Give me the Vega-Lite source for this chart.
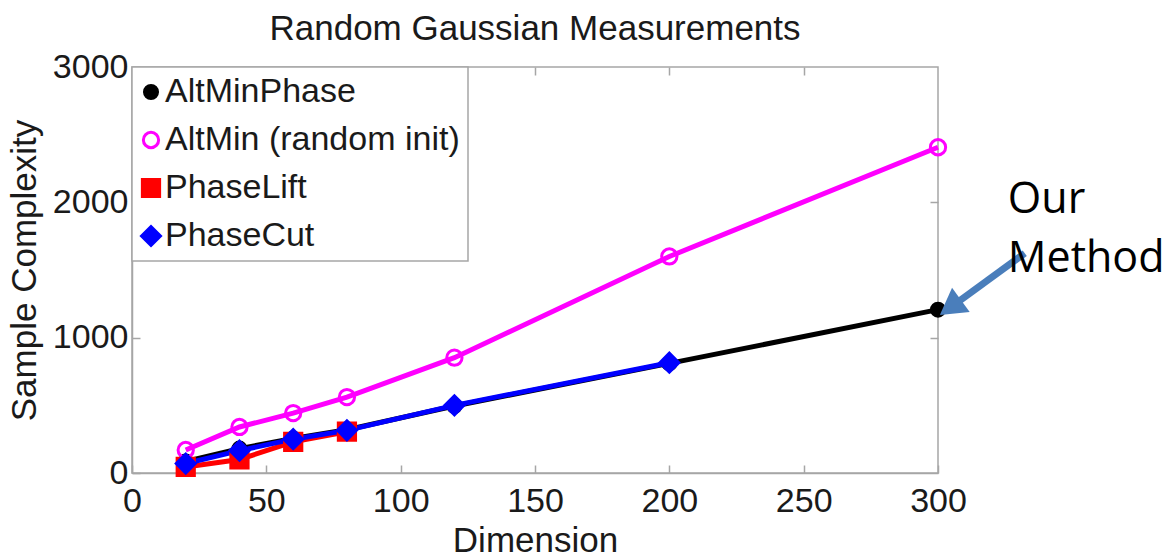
{
  "$schema": "https://vega.github.io/schema/vega-lite/v6.json",
  "autosize": {"type": "none"},
  "width": 806,
  "height": 406,
  "padding": {"left": 132, "top": 67, "right": 233, "bottom": 80},
  "background": "white",
  "title": {
    "text": "Random Gaussian Measurements",
    "font": "Liberation Sans",
    "fontSize": 35,
    "fontWeight": "normal",
    "color": "#1a1a1a",
    "anchor": "middle",
    "offset": 3
  },
  "datasets": {
    "main": [
      {"Series": "AltMinPhase", "Dimension": 20, "Value": 85},
      {"Series": "AltMinPhase", "Dimension": 40, "Value": 180},
      {"Series": "AltMinPhase", "Dimension": 60, "Value": 255},
      {"Series": "AltMinPhase", "Dimension": 80, "Value": 320},
      {"Series": "AltMinPhase", "Dimension": 120, "Value": 495},
      {"Series": "AltMinPhase", "Dimension": 200, "Value": 810},
      {"Series": "AltMinPhase", "Dimension": 300, "Value": 1207},
      {"Series": "AltMin (random init)", "Dimension": 20, "Value": 170},
      {"Series": "AltMin (random init)", "Dimension": 40, "Value": 340},
      {"Series": "AltMin (random init)", "Dimension": 60, "Value": 443},
      {"Series": "AltMin (random init)", "Dimension": 80, "Value": 561},
      {"Series": "AltMin (random init)", "Dimension": 120, "Value": 852},
      {"Series": "AltMin (random init)", "Dimension": 200, "Value": 1600},
      {"Series": "AltMin (random init)", "Dimension": 300, "Value": 2407},
      {"Series": "PhaseLift", "Dimension": 20, "Value": 45},
      {"Series": "PhaseLift", "Dimension": 40, "Value": 100},
      {"Series": "PhaseLift", "Dimension": 60, "Value": 230},
      {"Series": "PhaseLift", "Dimension": 80, "Value": 305},
      {"Series": "PhaseCut", "Dimension": 20, "Value": 70},
      {"Series": "PhaseCut", "Dimension": 40, "Value": 165},
      {"Series": "PhaseCut", "Dimension": 60, "Value": 250},
      {"Series": "PhaseCut", "Dimension": 80, "Value": 315},
      {"Series": "PhaseCut", "Dimension": 120, "Value": 500},
      {"Series": "PhaseCut", "Dimension": 200, "Value": 815}
    ],
    "notes": [
      {"Dimension": 326, "Value": 1922, "label": "Our"},
      {"Dimension": 326, "Value": 1483, "label": "Method"}
    ],
    "arrow": [
      {"Dimension": 332.3, "Value": 1624, "Dimension2": 304.6, "Value2": 1223}
    ],
    "head": [
      {"Dimension": 304.6, "Value": 1223}
    ]
  },
  "layer": [
    {
      "data": {"name": "main"},
      "mark": {"type": "line", "strokeWidth": 5},
      "encoding": {
        "x": {
          "field": "Dimension", "type": "quantitative",
          "scale": {"domain": [0, 300], "nice": false, "zero": false},
          "axis": {"title": "Dimension", "values": [0, 50, 100, 150, 200, 250, 300], "format": "d", "tickSize": -8, "labelPadding": 19, "titlePadding": 5}
        },
        "y": {
          "field": "Value", "type": "quantitative",
          "scale": {"domain": [0, 3000], "nice": false},
          "axis": {"title": "Sample Complexity", "values": [0, 1000, 2000, 3000], "format": "d", "tickSize": -8, "labelPadding": 12, "titlePadding": 10}
        },
        "stroke": {
          "field": "Series", "type": "nominal",
          "scale": {"domain": ["AltMinPhase", "AltMin (random init)", "PhaseLift", "PhaseCut"], "range": ["#000000", "#ff00ff", "#ff0000", "#0000ff"]},
          "legend": {"title": null}
        },
        "detail": {"field": "Series"}
      }
    },
    {
      "data": {"name": "main"},
      "mark": {"type": "point", "filled": true, "strokeWidth": 3, "opacity": 1},
      "encoding": {
        "x": {"field": "Dimension", "type": "quantitative", "axis": null},
        "y": {"field": "Value", "type": "quantitative", "axis": null},
        "stroke": {
          "field": "Series", "type": "nominal",
          "scale": {"domain": ["AltMinPhase", "AltMin (random init)", "PhaseLift", "PhaseCut"], "range": ["#000000", "#ff00ff", "#ff0000", "#0000ff"]},
          "legend": {"title": null}
        },
        "fill": {
          "field": "Series", "type": "nominal",
          "scale": {"domain": ["AltMinPhase", "AltMin (random init)", "PhaseLift", "PhaseCut"], "range": ["#000000", "transparent", "#ff0000", "#0000ff"]},
          "legend": {"title": null}
        },
        "shape": {
          "field": "Series", "type": "nominal",
          "scale": {"domain": ["AltMinPhase", "AltMin (random init)", "PhaseLift", "PhaseCut"], "range": ["circle", "circle", "square", "diamond"]},
          "legend": {"title": null}
        },
        "size": {
          "field": "Series", "type": "nominal",
          "scale": {"domain": ["AltMinPhase", "AltMin (random init)", "PhaseLift", "PhaseCut"], "range": [170, 360, 225, 380]},
          "legend": null
        }
      }
    },
    {
      "data": {"name": "main"},
      "mark": {"type": "point", "opacity": 0},
      "encoding": {
        "x": {"field": "Dimension", "type": "quantitative",
          "axis": {"orient": "top", "title": null, "labels": false, "domain": false, "values": [50, 100, 150, 200, 250], "tickSize": -8}},
        "y": {"field": "Value", "type": "quantitative",
          "axis": {"orient": "right", "title": null, "labels": false, "domain": false, "values": [1000, 2000], "tickSize": -8}}
      }
    },
    {
      "data": {"name": "arrow"},
      "mark": {"type": "rule", "strokeWidth": 7, "color": "#4a7ebb"},
      "encoding": {
        "x": {"field": "Dimension", "type": "quantitative", "axis": null},
        "y": {"field": "Value", "type": "quantitative", "axis": null},
        "x2": {"field": "Dimension2"},
        "y2": {"field": "Value2"}
      }
    },
    {
      "data": {"name": "head"},
      "mark": {"type": "point", "shape": "triangle-up", "angle": 234, "size": 900, "filled": true, "color": "#4a7ebb", "opacity": 1, "strokeWidth": 0},
      "encoding": {
        "x": {"field": "Dimension", "type": "quantitative", "axis": null},
        "y": {"field": "Value", "type": "quantitative", "axis": null}
      }
    },
    {
      "data": {"name": "notes"},
      "mark": {"type": "text", "font": "Open Sans", "fontSize": 43, "align": "left", "baseline": "alphabetic", "color": "#000000"},
      "encoding": {
        "x": {"field": "Dimension", "type": "quantitative", "axis": null},
        "y": {"field": "Value", "type": "quantitative", "axis": null},
        "text": {"field": "label"}
      }
    }
  ],
  "resolve": {"axis": {"x": "independent", "y": "independent"}},
  "config": {
    "view": {"stroke": "#a6a6a6", "strokeWidth": 1.5},
    "axis": {
      "grid": false,
      "domainColor": "#a6a6a6",
      "domainWidth": 1.5,
      "tickColor": "#a6a6a6",
      "tickWidth": 1.5,
      "labelFont": "Liberation Sans",
      "labelFontSize": 34,
      "labelColor": "#1a1a1a",
      "titleFont": "Liberation Sans",
      "titleFontSize": 35,
      "titleFontWeight": "normal",
      "titleColor": "#1a1a1a",
      "labelOverlap": false,
      "labelFlush": false
    },
    "legend": {
      "orient": "top-left",
      "offset": 0,
      "strokeColor": "#a6a6a6",
      "strokeWidth": 1.5,
      "fillColor": "white",
      "padding": 8,
      "rowPadding": 14,
      "labelFont": "Liberation Sans",
      "labelFontSize": 34,
      "labelColor": "#1a1a1a",
      "labelLimit": 400,
      "labelOffset": -3,
      "symbolOffset": -6,
      "symbolSize": 240,
      "symbolStrokeWidth": 3
    }
  }
}
